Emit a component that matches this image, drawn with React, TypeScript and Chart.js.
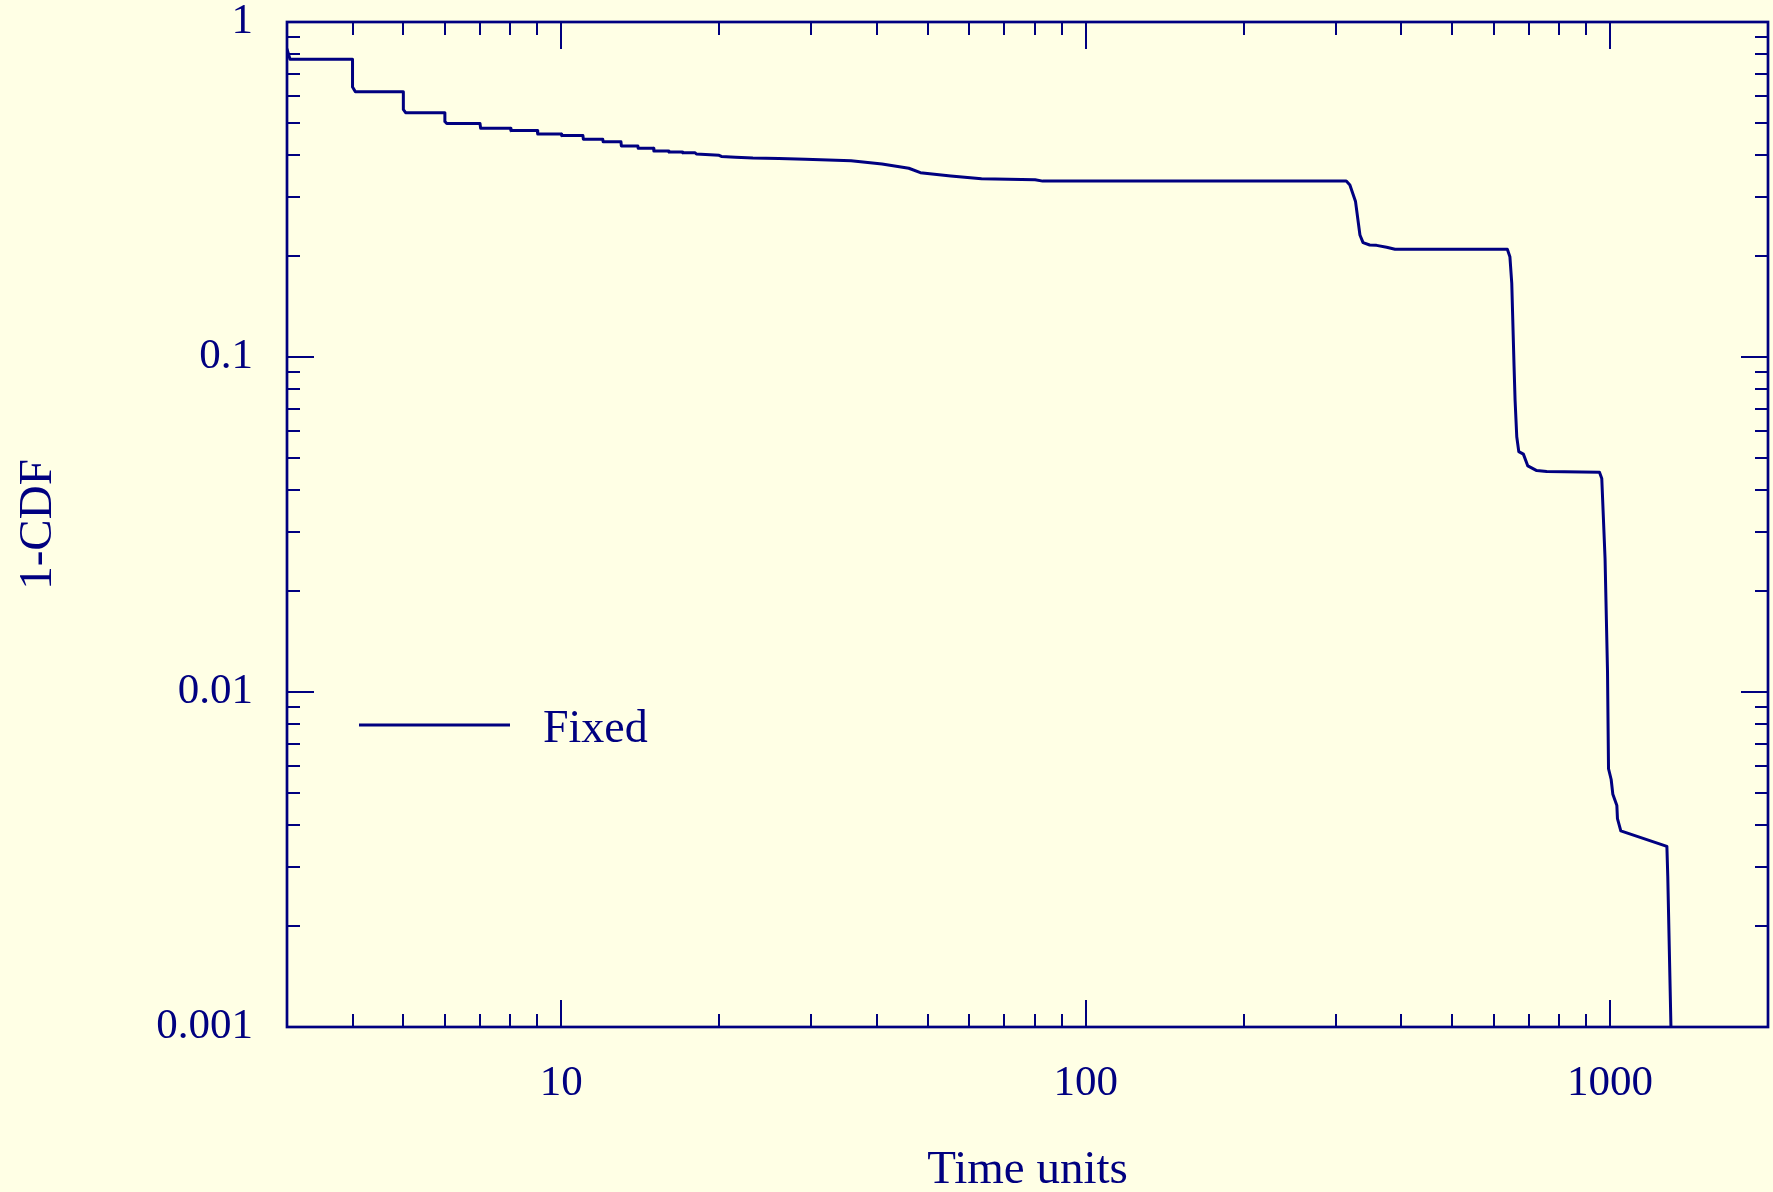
import React, { useEffect, useRef } from 'react';
import { Chart, registerables } from 'chart.js';

Chart.register(...registerables);

// ---------- data ----------
const SERIES_LABEL = 'Fixed';
const X_TITLE = 'Time units';
const Y_TITLE = '1-CDF';

const TIME = [
  3.0, 3.04, 4.0, 4.0, 4.05, 5.0, 5.0, 5.05, 6.0, 6.0, 6.05, 7.0, 7.02, 8.0, 8.02, 9.0, 9.02,
  10.0, 10.02, 11.0, 11.02, 12.0, 12.02, 13.0, 13.02, 14.0, 14.02, 15.0, 15.02, 16.0, 16.05,
  17.0, 17.05, 18.0, 18.1, 20.0, 20.2, 21.5, 23.2, 26.0, 29.2, 35.7, 40.9, 46.0, 48.4, 55.3,
  63.3, 80.1, 82.8, 314.0, 319.0, 327.0, 333.4, 338.0, 348.0, 358.6, 374.8, 388.9, 636.8,
  644.0, 649.3, 655.9, 658.8, 663.7, 669.6, 683.3, 696.7, 724.5, 757.0, 954.4, 964.0, 978.0,
  988.6, 993.0, 1004.6, 1012.0, 1030.0, 1032.7, 1048.0, 1283.0, 1288.0, 1307.0,
];

const SURVIVAL = [
  0.83, 0.774, 0.774, 0.64, 0.619, 0.619, 0.548, 0.536, 0.536, 0.505, 0.498, 0.498, 0.482,
  0.482, 0.474, 0.474, 0.463, 0.463, 0.458, 0.458, 0.447, 0.447, 0.439, 0.439, 0.4265, 0.4265,
  0.42, 0.42, 0.412, 0.412, 0.409, 0.409, 0.407, 0.407, 0.4036, 0.4, 0.397, 0.395, 0.3926,
  0.391, 0.389, 0.3855, 0.3768, 0.366, 0.3549, 0.3469, 0.3405, 0.3382, 0.335, 0.335, 0.326,
  0.291, 0.2313, 0.2194, 0.2159, 0.2154, 0.2126, 0.2097, 0.2097, 0.1993, 0.166, 0.0936,
  0.0744, 0.0578, 0.0522, 0.0513, 0.0473, 0.0458, 0.0455, 0.0453, 0.0434, 0.025, 0.0115,
  0.0059, 0.00548, 0.00495, 0.00458, 0.00419, 0.00385, 0.00346, 0.00282, 0.00095,
];

const X_MIN = 3;
const X_MAX = 2000;
const Y_MIN = 0.001;
const Y_MAX = 1;

const X_MAJOR = [10, 100, 1000];
const X_MAJOR_LABELS = ['10', '100', '1000'];
const X_MINOR = [3, 4, 5, 6, 7, 8, 9, 20, 30, 40, 50, 60, 70, 80, 90, 200, 300, 400, 500, 600, 700, 800, 900, 2000];

const Y_MAJOR = [0.001, 0.01, 0.1, 1];
const Y_MAJOR_LABELS = ['0.001', '0.01', '0.1', '1'];
const Y_MINOR = [
  0.002, 0.003, 0.004, 0.005, 0.006, 0.007, 0.008, 0.009,
  0.02, 0.03, 0.04, 0.05, 0.06, 0.07, 0.08, 0.09,
  0.2, 0.3, 0.4, 0.5, 0.6, 0.7, 0.8, 0.9,
];

// ---------- style ----------
const NAVY = '#000080';
const BG = '#FFFFE5';
const FONT = "'Liberation Serif', 'Times New Roman', serif";

const W = 1773;
const H = 1192;

const zeroPadding = (scale: any) => {
  scale.paddingLeft = 0;
  scale.paddingRight = 0;
  scale.paddingTop = 0;
  scale.paddingBottom = 0;
};

const framePlugin = {
  id: 'framePlugin',
  beforeDraw(chart: any) {
    const { ctx, width, height } = chart;
    ctx.save();
    ctx.fillStyle = BG;
    ctx.fillRect(0, 0, width, height);
    ctx.restore();
  },
  afterDatasetsDraw(chart: any) {
    const { ctx, chartArea: a, scales } = chart;
    ctx.save();
    ctx.strokeStyle = NAVY;
    ctx.lineWidth = 2;
    ctx.beginPath();
    const xs = scales.x;
    for (const t of xs.ticks) {
      const len = X_MAJOR.includes(t.value) ? 27 : 13;
      const px = Math.round(xs.getPixelForValue(t.value));
      ctx.moveTo(px, a.bottom);
      ctx.lineTo(px, a.bottom - len);
      ctx.moveTo(px, a.top);
      ctx.lineTo(px, a.top + len);
    }
    const ys = scales.y;
    for (const t of ys.ticks) {
      const len = Y_MAJOR.includes(t.value) ? 27 : 13;
      const py = Math.round(ys.getPixelForValue(t.value));
      ctx.moveTo(a.left, py);
      ctx.lineTo(a.left + len, py);
      ctx.moveTo(a.right, py);
      ctx.lineTo(a.right - len, py);
    }
    ctx.stroke();

    ctx.lineWidth = 2.7;
    ctx.strokeRect(a.left, a.top, a.right - a.left, a.bottom - a.top);

    // legend
    const ds = chart.data.datasets[0];
    const lx = a.left + 72;
    const ly = a.top + 703;
    ctx.lineWidth = 3;
    ctx.beginPath();
    ctx.moveTo(lx, ly);
    ctx.lineTo(lx + 151, ly);
    ctx.stroke();
    ctx.fillStyle = NAVY;
    ctx.font = `46px ${FONT}`;
    ctx.textBaseline = 'alphabetic';
    ctx.textAlign = 'left';
    ctx.fillText(ds.label, lx + 184, ly + 17);
    ctx.restore();
  },
};

export default function App() {
  const ref = useRef<HTMLCanvasElement>(null);

  useEffect(() => {
    document.body.style.margin = '0';
    document.body.style.background = BG;
    const canvas = ref.current;
    if (!canvas) return;
    const points = TIME.map((t, i) => ({ x: t, y: SURVIVAL[i] }));
    const chart = new Chart(canvas, {
      type: 'line',
      data: {
        datasets: [
          {
            label: SERIES_LABEL,
            data: points,
            borderColor: NAVY,
            backgroundColor: NAVY,
            borderWidth: 3,
            borderJoinStyle: 'round',
            borderCapStyle: 'round',
            pointRadius: 0,
            tension: 0,
            fill: false,
            clip: 0,
          } as any,
        ],
      },
      options: {
        responsive: false,
        animation: false,
        devicePixelRatio: 1,
        layout: { padding: { top: 22, right: 5, left: 0, bottom: 0 } },
        plugins: {
          legend: { display: false },
          tooltip: { enabled: false },
        },
        scales: {
          x: {
            type: 'logarithmic',
            min: X_MIN,
            max: X_MAX,
            position: 'bottom',
            grid: { display: false, drawTicks: false },
            border: { display: false },
            afterBuildTicks: (scale: any) => {
              scale.ticks = [...X_MINOR, ...X_MAJOR].sort((p, q) => p - q).map((v) => ({ value: v }));
            },
            afterFit: (scale: any) => {
              scale.height = H - 1027;
              zeroPadding(scale);
            },
            ticks: {
              autoSkip: false,
              maxRotation: 0,
              minRotation: 0,
              padding: 35,
              color: NAVY,
              font: { family: FONT, size: 43, lineHeight: 1 },
              callback: (v: any) => {
                const i = X_MAJOR.indexOf(Number(v));
                return i >= 0 ? X_MAJOR_LABELS[i] : '';
              },
            },
            title: {
              display: true,
              text: X_TITLE,
              color: NAVY,
              font: { family: FONT, size: 47, lineHeight: 0.9 },
              padding: { top: 0, bottom: 0 },
            },
          },
          y: {
            type: 'logarithmic',
            min: Y_MIN,
            max: Y_MAX,
            position: 'left',
            grid: { display: false, drawTicks: false },
            border: { display: false },
            afterBuildTicks: (scale: any) => {
              scale.ticks = [...Y_MINOR, ...Y_MAJOR].sort((p, q) => p - q).map((v) => ({ value: v }));
            },
            afterFit: (scale: any) => {
              scale.width = 287;
              zeroPadding(scale);
            },
            ticks: {
              autoSkip: false,
              padding: 34,
              color: NAVY,
              font: { family: FONT, size: 43, lineHeight: 1 },
              callback: (v: any) => {
                const i = Y_MAJOR.indexOf(Number(v));
                return i >= 0 ? Y_MAJOR_LABELS[i] : '';
              },
            },
            title: {
              display: true,
              text: Y_TITLE,
              color: NAVY,
              font: { family: FONT, size: 47, lineHeight: 1 },
              padding: { top: 15, bottom: 0 },
            },
          },
        },
      },
      plugins: [framePlugin],
    } as any);
    return () => chart.destroy();
  }, []);

  return (
    <div style={{ position: 'fixed', left: 0, top: 0, width: W, height: H, background: BG }}>
      <canvas ref={ref} width={W} height={H} style={{ display: 'block', width: W, height: H }} />
    </div>
  );
}
